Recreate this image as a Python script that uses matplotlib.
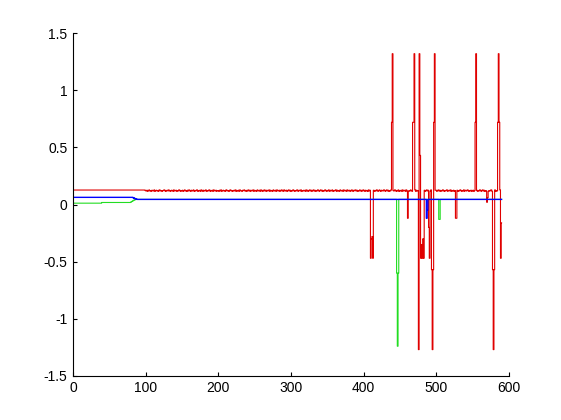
import numpy as np
import matplotlib
matplotlib.use('Agg')
import matplotlib.pyplot as plt

plt.rcParams['font.family'] = ['Liberation Sans', 'DejaVu Sans']
plt.rcParams['axes.unicode_minus'] = False

# sample positions
n_samples = 591

# baseline levels
red_start, red_flat, red_level = 0.02, 0.127, 0.122
green_start, green_low1, green_low2, green_level = 0.0, 0.012, 0.018, 0.045
blue_start, blue_early, blue_level = 0.02, 0.063, 0.045

green_ramp = [0.022, 0.026, 0.030, 0.034, 0.038, 0.041, 0.043, 0.044]   # x = 80..87
blue_ramp = [0.060, 0.057, 0.054, 0.051, 0.048, 0.046]                   # x = 83..88

# small wobble on the red trace from x = 100 on (steps of 0.003 around the level)
red_jitter = (
    "21302412032140231204312023410231420132041230214302"
    "13024120314203124021340213042031240213402130421302"
    "20314023120431203412023140213042103241203142031240"
    "31204213042031420312403120421304213024130421302413"
    "02143021340231402132041302413024130214302413021430"
    "12403124021340312042130421304213024103241302142031"
    "42031204130241302143024103214302413021403214302140"
    "21304123041302142031240312041320413024130214302413"
    "30241302143021340231402130241302143021403214302130"
    "13024130214302413021430213402314021302413021430214"
)

# spikes: {x: value}
red_spikes = {
    410: -0.47, 411: -0.30, 412: -0.28, 413: -0.47,
    439: 0.72, 440: 1.32,
    461: -0.12,
    468: 0.72, 469: 0.72, 470: 1.32,
    476: -1.27, 477: 1.32, 478: 0.43, 479: -0.47, 480: -0.35,
    481: -0.47, 482: -0.30, 483: -0.47,
    490: -0.20, 491: -0.47,
    494: -0.57, 495: -1.27, 496: -0.57,
    497: 0.72, 498: 1.32,
    527: -0.12, 528: -0.12,
    554: 0.72, 555: 1.32,
    570: 0.02, 571: 0.06,
    578: -0.57, 579: -1.27, 580: -0.57,
    585: 0.72, 586: 1.32, 587: 0.72,
    589: -0.47, 590: -0.16,
}
green_spikes = {446: -0.60, 447: -1.24, 448: -0.60, 504: -0.13, 505: -0.13}
blue_spikes = {487: -0.12, 488: -0.05}

x = np.arange(n_samples)

red = np.full(n_samples, red_level)
red[0] = red_start
red[1:100] = red_flat
jit = np.array([int(c) - 2 for c in red_jitter[:n_samples - 100]]) * 0.003
red[100:100 + len(jit)] += jit
for k, v in red_spikes.items():
    red[k] = v

green = np.full(n_samples, green_level)
green[0] = green_start
green[1:40] = green_low1
green[40:80] = green_low2
green[80:80 + len(green_ramp)] = green_ramp
for k, v in green_spikes.items():
    green[k] = v

blue = np.full(n_samples, blue_level)
blue[0] = blue_start
blue[1:83] = blue_early
blue[83:83 + len(blue_ramp)] = blue_ramp
for k, v in blue_spikes.items():
    blue[k] = v

fig = plt.figure(figsize=(5.61, 4.2), dpi=100)
ax = fig.add_axes([0.130, 0.105, 0.777, 0.816])

ax.plot(x, red, color='#e00000', lw=0.8, drawstyle='steps-mid')
ax.plot(x, green, color='#22dd22', lw=0.8, drawstyle='steps-mid')
ax.plot(x, blue, color='#0000ff', lw=1.0, drawstyle='steps-mid')

ax.set_xlim(0, 600)
ax.set_ylim(-1.5, 1.5)
ax.set_xticks(range(0, 601, 100))
ax.set_yticks([-1.5, -1, -0.5, 0, 0.5, 1, 1.5])
ax.set_yticklabels(['-1.5', '-1', '-0.5', '0', '0.5', '1', '1.5'])

ax.spines['top'].set_visible(False)
ax.spines['right'].set_visible(False)
ax.tick_params(direction='in', length=3, width=0.8, labelsize=10, pad=4)

fig.savefig('out.png', dpi=100)
